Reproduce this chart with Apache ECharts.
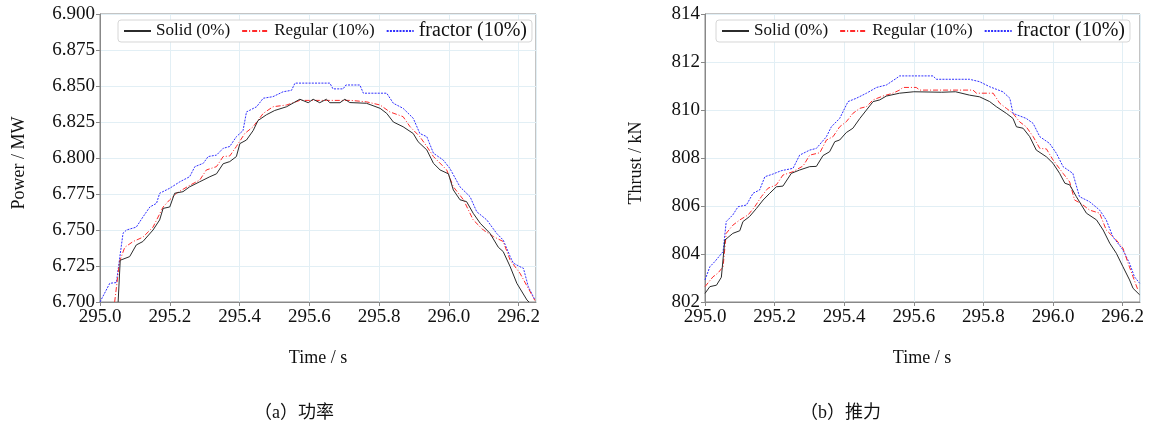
<!DOCTYPE html>
<html>
<head>
<meta charset="utf-8">
<script src="https://cdn.jsdelivr.net/npm/echarts@6/dist/echarts.min.js"></script>
<style>
  html, body { margin: 0; padding: 0; background: #fff; }
  #chart { width: 1153px; height: 427px; }
</style>
</head>
<body>
<div id="chart"></div>
<script>
// Series names
const seriesNames = ['Solid (0%)', 'Regular (10%)', 'fractor (10%)'];

// Power (MW) vs time (s)
const powerSolid = [
  [295.052, 6.700], [295.058, 6.729], [295.085, 6.7315], [295.104, 6.7396], [295.123, 6.742],
  [295.152, 6.750], [295.171, 6.757], [295.181, 6.765], [295.200, 6.766], [295.214, 6.7755],
  [295.238, 6.7766], [295.257, 6.780], [295.286, 6.7835], [295.315, 6.787], [295.334, 6.789],
  [295.353, 6.796], [295.372, 6.7975], [295.391, 6.801], [295.401, 6.810], [295.420, 6.8125],
  [295.439, 6.819], [295.453, 6.826], [295.477, 6.830], [295.501, 6.833], [295.535, 6.8356],
  [295.573, 6.8408], [295.597, 6.8384], [295.611, 6.8408], [295.630, 6.8384], [295.649, 6.8408],
  [295.659, 6.8384], [295.688, 6.8384], [295.702, 6.8408], [295.716, 6.8385], [295.764, 6.8380],
  [295.803, 6.8345], [295.822, 6.831], [295.841, 6.825], [295.869, 6.8217], [295.898, 6.817],
  [295.912, 6.8113], [295.937, 6.8056], [295.956, 6.7963], [295.975, 6.7917], [295.999, 6.789],
  [296.013, 6.7778], [296.032, 6.771], [296.051, 6.7697], [296.070, 6.7616], [296.090, 6.7547],
  [296.118, 6.7477], [296.142, 6.738], [296.156, 6.735], [296.176, 6.7245], [296.195, 6.713],
  [296.224, 6.7014], [296.230, 6.700]
];
const powerRegular = [
  [295.042, 6.700], [295.056, 6.728], [295.071, 6.738], [295.095, 6.742], [295.123, 6.745],
  [295.152, 6.752], [295.181, 6.766], [295.200, 6.771], [295.219, 6.7755], [295.257, 6.781],
  [295.286, 6.7847], [295.305, 6.7917], [295.334, 6.794], [295.353, 6.801], [295.372, 6.8014],
  [295.391, 6.808], [295.415, 6.817], [295.439, 6.8217], [295.468, 6.831], [295.496, 6.8356],
  [295.535, 6.8368], [295.573, 6.840], [295.650, 6.840], [295.720, 6.840], [295.764, 6.839],
  [295.803, 6.8368], [295.831, 6.832], [295.869, 6.8287], [295.889, 6.8217], [295.917, 6.8148],
  [295.937, 6.808], [295.956, 6.801], [295.994, 6.7917], [296.013, 6.780], [296.042, 6.771],
  [296.070, 6.757], [296.099, 6.750], [296.128, 6.7454], [296.156, 6.742], [296.176, 6.729],
  [296.204, 6.720], [296.233, 6.7072], [296.247, 6.701]
];
const powerFractor = [
  [295.000, 6.700], [295.028, 6.713], [295.047, 6.7135], [295.066, 6.7477], [295.076, 6.750],
  [295.104, 6.752], [295.123, 6.759], [295.143, 6.766], [295.162, 6.7685], [295.171, 6.7755],
  [295.200, 6.779], [295.229, 6.7835], [295.257, 6.787], [295.272, 6.794], [295.296, 6.7963],
  [295.310, 6.801], [295.334, 6.802], [295.353, 6.8067], [295.372, 6.808], [295.391, 6.8148],
  [295.410, 6.819], [295.420, 6.832], [295.449, 6.8356], [295.468, 6.8415], [295.496, 6.8426],
  [295.525, 6.846], [295.549, 6.847], [295.559, 6.852], [295.659, 6.852], [295.668, 6.848],
  [295.697, 6.848], [295.705, 6.8507], [295.745, 6.8507], [295.755, 6.845], [295.822, 6.845],
  [295.841, 6.838], [295.869, 6.8345], [295.898, 6.8276], [295.917, 6.817], [295.937, 6.8148],
  [295.956, 6.8033], [295.984, 6.7986], [296.003, 6.7928], [296.032, 6.780], [296.061, 6.7731],
  [296.080, 6.7627], [296.109, 6.757], [296.137, 6.7477], [296.156, 6.743], [296.176, 6.7315],
  [296.185, 6.727], [296.204, 6.7245], [296.214, 6.7234], [296.228, 6.7106], [296.247, 6.7014]
];

// Thrust (kN) vs time (s)
const thrustSolid = [
  [295.000, 802.36], [295.014, 802.64], [295.033, 802.70], [295.047, 803.03], [295.057, 804.58],
  [295.080, 804.86], [295.100, 804.97], [295.109, 805.35], [295.128, 805.56], [295.148, 805.90],
  [295.167, 806.25], [295.186, 806.53], [295.205, 806.80], [295.224, 806.83], [295.248, 807.36],
  [295.272, 807.50], [295.301, 807.64], [295.320, 807.65], [295.339, 808.10], [295.358, 808.26],
  [295.373, 808.68], [295.387, 808.75], [295.406, 809.06], [295.425, 809.24], [295.445, 809.65],
  [295.464, 810.00], [295.483, 810.35], [295.502, 810.42], [295.521, 810.58], [295.559, 810.70],
  [295.600, 810.76], [295.680, 810.74], [295.720, 810.76], [295.760, 810.62], [295.789, 810.55],
  [295.818, 810.35], [295.837, 810.14], [295.866, 809.86], [295.885, 809.65], [295.895, 809.30],
  [295.914, 809.24], [295.933, 808.89], [295.952, 808.33], [295.981, 808.05], [296.000, 807.78],
  [296.019, 807.36], [296.034, 806.95], [296.048, 806.88], [296.067, 806.39], [296.096, 805.70],
  [296.125, 805.42], [296.144, 805.00], [296.163, 804.45], [296.182, 804.03], [296.201, 803.47],
  [296.220, 802.92], [296.230, 802.57], [296.249, 802.30]
];
const thrustRegular = [
  [295.000, 802.64], [295.023, 803.05], [295.037, 803.20], [295.052, 803.47], [295.061, 804.86],
  [295.080, 805.20], [295.100, 805.42], [295.124, 805.63], [295.143, 805.97], [295.162, 806.39],
  [295.181, 806.74], [295.205, 806.88], [295.224, 807.29], [295.253, 807.43], [295.282, 807.67],
  [295.301, 808.12], [295.330, 808.22], [295.349, 808.75], [295.368, 808.89], [295.387, 809.30],
  [295.406, 809.51], [295.425, 809.86], [295.445, 810.07], [295.464, 810.14], [295.483, 810.42],
  [295.511, 810.58], [295.540, 810.70], [295.559, 810.83], [295.569, 810.94], [295.607, 810.94],
  [295.617, 810.83], [295.770, 810.83], [295.780, 810.70], [295.828, 810.70], [295.847, 810.28],
  [295.866, 810.07], [295.885, 809.86], [295.904, 809.51], [295.923, 809.30], [295.943, 808.89],
  [295.962, 808.40], [295.981, 808.38], [296.000, 807.92], [296.029, 807.36], [296.048, 807.00],
  [296.062, 806.25], [296.081, 806.10], [296.105, 805.83], [296.134, 805.70], [296.153, 805.00],
  [296.182, 804.58], [296.201, 804.24], [296.216, 803.61], [296.230, 803.05], [296.244, 802.50]
];
const thrustFractor = [
  [295.000, 802.92], [295.014, 803.47], [295.028, 803.68], [295.052, 804.10], [295.061, 805.35],
  [295.080, 805.63], [295.095, 805.97], [295.119, 806.04], [295.138, 806.53], [295.157, 806.67],
  [295.172, 807.22], [295.195, 807.33], [295.219, 807.47], [295.253, 807.57], [295.272, 808.12],
  [295.301, 808.33], [295.320, 808.40], [295.349, 808.89], [295.363, 809.30], [295.387, 809.65],
  [295.411, 810.35], [295.435, 810.49], [295.464, 810.70], [295.493, 810.94], [295.521, 811.04],
  [295.550, 811.32], [295.559, 811.42], [295.655, 811.42], [295.665, 811.28], [295.760, 811.28],
  [295.789, 811.18], [295.818, 810.97], [295.856, 810.76], [295.876, 810.49], [295.885, 809.86],
  [295.923, 809.65], [295.943, 809.44], [295.962, 808.89], [295.990, 808.61], [296.010, 808.19],
  [296.029, 807.64], [296.057, 807.36], [296.076, 806.39], [296.105, 806.18], [296.134, 805.83],
  [296.153, 805.42], [296.172, 804.72], [296.201, 804.17], [296.220, 803.61], [296.234, 803.05],
  [296.249, 802.78]
];

// Axis settings
const timeRange = [295.0, 296.25];
const timeStep = 0.2;
const powerRange = [6.700, 6.900];
const powerStep = 0.025;
const thrustRange = [802, 814];
const thrustStep = 2;

// Text
const axisTitles = { time: 'Time / s', power: 'Power / MW', thrust: 'Thrust / kN' };
const captions = ['（a）功率', '（b）推力'];

const SERIF = "'Liberation Serif', 'Times New Roman', 'Noto Sans CJK SC', serif";
const lineStyles = [
  { color: '#2b2b2b', width: 1, type: 'solid' },
  { color: '#ff2a2a', width: 1, type: [5, 2, 1, 2] },
  { color: '#3030ff', width: 1, type: [2, 1.2] }
];

const chart = echarts.init(document.getElementById('chart'), null, { renderer: 'canvas' });

function xAxisFor(gridIndex) {
  return {
    type: 'value', gridIndex,
    min: timeRange[0], max: timeRange[1], interval: timeStep,
    axisLine: { show: true, lineStyle: { color: '#888', width: 1 } },
    axisTick: { show: true, length: 4, inside: false, lineStyle: { color: '#888' } },
    axisLabel: {
      color: '#111', fontFamily: SERIF, fontSize: 19, margin: 6,
      showMaxLabel: false,
      formatter: v => v.toFixed(1)
    },
    splitLine: { show: true, lineStyle: { color: '#e2eff5', width: 1 } }
  };
}
function yAxisFor(gridIndex, range, step, digits) {
  return {
    type: 'value', gridIndex,
    min: range[0], max: range[1], interval: step,
    axisLine: { show: true, lineStyle: { color: '#888', width: 1 } },
    axisTick: { show: true, length: 4, inside: false, lineStyle: { color: '#888' } },
    axisLabel: {
      color: '#111', fontFamily: SERIF, fontSize: 19, margin: 5,
      formatter: v => v.toFixed(digits)
    },
    splitLine: { show: true, lineStyle: { color: '#e2eff5', width: 1 } }
  };
}

function lineSeries(i, data, axisIndex) {
  return {
    name: seriesNames[i], type: 'line', data,
    xAxisIndex: axisIndex, yAxisIndex: axisIndex,
    symbol: 'none', showSymbol: false,
    lineStyle: lineStyles[i], itemStyle: { color: lineStyles[i].color },
    z: 3 + (2 - i), animation: false
  };
}

function legendAt(left) {
  return {
    left, top: 20, orient: 'horizontal',
    itemWidth: 27, itemHeight: 12, itemGap: 11,
    padding: [1, 5, 1, 5],
    backgroundColor: '#fff', borderColor: '#d6d6d6', borderWidth: 1, borderRadius: 3,
    selectedMode: false,
    // line sample only, no marker dot
    itemStyle: { opacity: 0 },
    textStyle: { fontFamily: SERIF, fontSize: 17, color: '#111' },
    data: [
      { name: seriesNames[0] },
      { name: seriesNames[1] },
      { name: seriesNames[2], textStyle: { fontSize: 20 } }
    ]
  };
}

function textEl(x, y, text, size, rotate, align) {
  return {
    type: 'text', x, y, rotation: rotate ? Math.PI / 2 : 0,
    style: {
      text, fill: '#111', font: size + 'px ' + SERIF,
      textAlign: align || 'center', textVerticalAlign: 'middle'
    }
  };
}

const option = {
  backgroundColor: '#fff',
  animation: false,
  grid: [
    { left: 100, top: 14, width: 436, height: 288, show: true, borderColor: '#888', borderWidth: 1, backgroundColor: 'transparent' },
    { left: 705, top: 14, width: 435, height: 288, show: true, borderColor: '#888', borderWidth: 1, backgroundColor: 'transparent' }
  ],
  xAxis: [xAxisFor(0), xAxisFor(1)],
  yAxis: [
    yAxisFor(0, powerRange, powerStep, 3),
    yAxisFor(1, thrustRange, thrustStep, 0)
  ],
  legend: [legendAt(118), legendAt(716)],
  series: [
    lineSeries(0, powerSolid, 0),
    lineSeries(1, powerRegular, 0),
    lineSeries(2, powerFractor, 0),
    lineSeries(0, thrustSolid, 1),
    lineSeries(1, thrustRegular, 1),
    lineSeries(2, thrustFractor, 1)
  ],
  graphic: [
    textEl(19, 163, axisTitles.power, 18, true),
    textEl(636, 163, axisTitles.thrust, 18, true),
    textEl(318, 358, axisTitles.time, 18),
    textEl(922, 358, axisTitles.time, 18),
    textEl(254, 413, captions[0], 18, false, 'left'),
    textEl(800, 413, captions[1], 18, false, 'left')
  ]
};

chart.setOption(option);
</script>
</body>
</html>
